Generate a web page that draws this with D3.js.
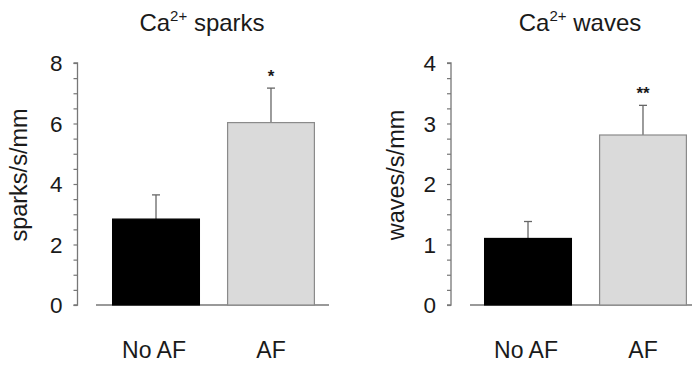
<!DOCTYPE html>
<html lang="en">
<head>
<meta charset="utf-8">
<script src="https://cdn.jsdelivr.net/npm/d3@7"></script>
<style>
  body { margin: 0; background: #fff; }
  text { font-family: "Liberation Sans", Arial, sans-serif; fill: #1a1a1a; }
</style>
</head>
<body>
<script>
  // data
  const groups = ["No AF", "AF"];
  const sparksMean = [2.84, 6.03];
  const sparksErr = [0.80, 1.14];
  const wavesMean = [1.10, 2.81];
  const wavesErr = [0.28, 0.49];
  const sigMarks = ["", "*"];
  const sigMarksWaves = ["", "**"];
  const sparksTicks = [0, 2, 4, 6, 8];
  const wavesTicks = [0, 1, 2, 3, 4];

  const W = 692, H = 365;
  const svg = d3.select("body").append("svg")
    .attr("width", W).attr("height", H);

  function panel(opt) {
    const g = svg.append("g");
    const y = d3.scaleLinear().domain([0, opt.max]).range([305, 63]);
    const x = d3.scaleBand().domain(groups)
      .range([opt.x0, opt.x0 + 234]).paddingInner(0.245).paddingOuter(0.14);

    // y axis, major + minor ticks pointing outwards
    const minor = d3.range(0, opt.max + 1e-9, opt.max / 16);
    g.append("g")
      .attr("transform", "translate(" + opt.axisX + ",0)")
      .call(d3.axisLeft(y).tickValues(minor).tickSize(4).tickFormat(""))
      .call(a => a.select(".domain").attr("stroke", "#777").attr("stroke-width", 1.3).attr("d", "M-4," + y(opt.max) + "H0V" + y(0) + "H-4"))
      .call(a => a.selectAll(".tick line").attr("stroke", "#777").attr("stroke-width", 1.2));

    g.selectAll(".ylab").data(opt.ticks).enter().append("text")
      .attr("x", opt.axisX - 15)
      .attr("y", d => y(d) + 8)
      .attr("text-anchor", "end")
      .style("font-size", "22.5px")
      .text(d => d);

    // baseline
    g.append("line")
      .attr("x1", opt.baseX0).attr("x2", opt.baseX1)
      .attr("y1", y(0)).attr("y2", y(0))
      .attr("stroke", "#777").attr("stroke-width", 1.5);

    // error bars (upper only)
    g.selectAll(".err").data(groups).enter().append("g")
      .each(function(d, i) {
        const cx = x(d) + x.bandwidth() / 2;
        const e = d3.select(this);
        e.append("line").attr("x1", cx).attr("x2", cx)
          .attr("y1", y(opt.mean[i])).attr("y2", y(opt.mean[i] + opt.err[i]))
          .attr("stroke", "#666").attr("stroke-width", 1.3);
        e.append("line").attr("x1", cx - 4).attr("x2", cx + 4)
          .attr("y1", y(opt.mean[i] + opt.err[i])).attr("y2", y(opt.mean[i] + opt.err[i]))
          .attr("stroke", "#666").attr("stroke-width", 1.3);
      });

    g.selectAll(".bar").data(groups).enter().append("rect")
      .attr("x", d => x(d))
      .attr("y", (d, i) => y(opt.mean[i]))
      .attr("width", x.bandwidth())
      .attr("height", (d, i) => y(0) - y(opt.mean[i]))
      .attr("fill", (d, i) => i === 0 ? "#000" : "#dadada")
      .attr("stroke", (d, i) => i === 0 ? "#000" : "#8a8a8a")
      .attr("stroke-width", 1.2);

    // significance stars
    g.selectAll(".sig").data(groups).enter().append("text")
      .attr("x", d => x(d) + x.bandwidth() / 2)
      .attr("y", (d, i) => y(opt.mean[i] + opt.err[i]) - 6)
      .attr("text-anchor", "middle")
      .style("font-size", "17px").style("font-weight", "bold")
      .text((d, i) => opt.sig[i]);

    // category labels
    g.selectAll(".xlab").data(groups).enter().append("text")
      .attr("x", (d, i) => x(d) + x.bandwidth() / 2 - (i === 0 ? 2 : 0))
      .attr("y", 358)
      .attr("text-anchor", "middle")
      .style("font-size", "23px")
      .text(d => d);

    // y title
    g.append("text")
      .attr("transform", "translate(" + opt.titleX + "," + 175 + ") rotate(-90)")
      .attr("text-anchor", "middle")
      .style("font-size", "23.5px")
      .text(opt.ylabel);

    // panel title with superscript
    const t = g.append("text")
      .attr("x", opt.titleCx).attr("y", 31)
      .attr("text-anchor", "middle")
      .style("font-size", "24px");
    t.append("tspan").text("Ca");
    t.append("tspan").attr("dy", -10).style("font-size", "15px").text("2+");
    t.append("tspan").attr("dy", 10).text(" " + opt.name);
  }

  panel({
    name: "sparks", ylabel: "sparks/s/mm", max: 8, ticks: sparksTicks,
    mean: sparksMean, err: sparksErr, sig: sigMarks,
    axisX: 77.5, baseX0: 96, baseX1: 329, x0: 96.5,
    titleX: 27, titleCx: 202
  });

  panel({
    name: "waves", ylabel: "waves/s/mm", max: 4, ticks: wavesTicks,
    mean: wavesMean, err: wavesErr, sig: sigMarksWaves,
    axisX: 451, baseX0: 470, baseX1: 692, x0: 468.5,
    titleX: 404, titleCx: 580
  });
</script>
</body>
</html>
